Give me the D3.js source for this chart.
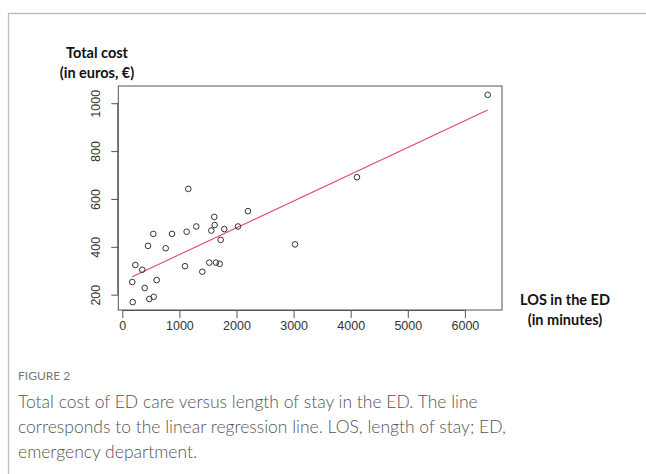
<!DOCTYPE html>
<html><head><meta charset="utf-8">
<script src="https://cdn.jsdelivr.net/npm/d3@7"></script>
<style>
html,body{margin:0;padding:0;background:#fff;}
svg{display:block;}
</style></head>
<body>
<svg id="chart" width="646" height="474"></svg>
<script>
// Data
const losMinutes = [175,182,228,350,392,450,473,549,543,602,760,870,1098,1127,1156,1296,1401,1524,1559,1611,1618,1641,1706,1723,1786,2026,2201,3025,4110,6399];
const totalCost  = [253,169,324,304,228,404,182,191,454,261,394,454,319,463,642,485,296,334,468,525,491,334,329,429,474,485,549,410,691,1035];
const xTicks = [0,1000,2000,3000,4000,5000,6000];
const yTicks = [200,400,600,800,1000];
const regression = [255.5, 0.112]; // intercept, slope
const captionLines = [
  "Total cost of ED care versus length of stay in the ED. The line",
  "corresponds to the linear regression line. LOS, length of stay; ED,",
  "emergency department."
];

const svg = d3.select("#chart");
const L = 118.3, R = 502, T = 86, B = 310;
const x = d3.scaleLinear().domain([-70, 6650]).range([L, R]);
const y = d3.scaleLinear().domain([136, 1072]).range([B, T]);
const fmt = d3.format("d");

// card border
svg.append("path").attr("d", "M8.5,474 V13.5 H646").attr("fill","none").attr("stroke","#bdbdbd").attr("stroke-width",1.3);

// plot box
svg.append("rect").attr("x",L).attr("y",T).attr("width",R-L).attr("height",B-T)
  .attr("fill","none").attr("stroke","#555").attr("stroke-width",1);

const xa = svg.append("g").attr("transform",`translate(0,${B})`)
  .call(d3.axisBottom(x).tickValues(xTicks).tickFormat(fmt).tickSize(8).tickSizeOuter(0).tickPadding(3));
xa.select(".domain").attr("d", `M${x(0)},0.5H${x(6000)}`).attr("stroke","#555");
xa.selectAll(".tick line").attr("stroke","#555");
xa.selectAll("text").attr("font-family","'Liberation Sans', Arial, sans-serif").attr("font-size",12.5).attr("fill","#333");

const ya = svg.append("g").attr("transform",`translate(${L},0)`)
  .call(d3.axisLeft(y).tickValues(yTicks).tickFormat(fmt).tickSize(7).tickSizeOuter(0).tickPadding(4));
ya.select(".domain").attr("d", `M-0.5,${y(200)}V${y(1000)}`).attr("stroke","#555");
ya.selectAll(".tick line").attr("stroke","#555");
ya.selectAll("text").attr("font-family","'Liberation Sans', Arial, sans-serif").attr("font-size",12.5).attr("fill","#333")
  .attr("transform","rotate(-90)").attr("x",0).attr("y",-18).attr("dy","0").attr("text-anchor","middle");

// regression line
const xmin = d3.min(losMinutes), xmax = d3.max(losMinutes);
svg.append("line")
  .attr("x1",x(xmin)).attr("y1",y(regression[0]+regression[1]*xmin))
  .attr("x2",x(xmax)).attr("y2",y(regression[0]+regression[1]*xmax))
  .attr("stroke","#e8475f").attr("stroke-width",1.1);

// points
svg.append("g").selectAll("circle").data(losMinutes.map((d,i)=>[d,totalCost[i]])).join("circle")
  .attr("cx",d=>x(d[0])).attr("cy",d=>y(d[1])).attr("r",2.8)
  .attr("fill","none").attr("stroke","#333").attr("stroke-width",1);

// axis titles
const tf = "Lato, 'Open Sans', sans-serif";
const titles = [["Total cost",97,58],["(in euros, €)",97,78],["LOS in the ED",565,305],["(in minutes)",565,325]];
svg.append("g").selectAll("text").data(titles).join("text")
  .attr("x",d=>d[1]).attr("y",d=>d[2]).attr("text-anchor","middle").attr("font-family",tf)
  .attr("font-weight","bold").attr("font-size",14.5).attr("fill","#111").text(d=>d[0]);

// caption
svg.append("text").attr("x",18).attr("y",380).attr("font-family","Lato, 'Open Sans', sans-serif")
  .attr("font-size",12).attr("fill","#777").text("FIGURE 2");
svg.append("g").selectAll("text").data(captionLines).join("text")
  .attr("x",18).attr("y",(d,i)=>408+i*25).attr("font-family","Lato, 'Open Sans', sans-serif")
  .attr("font-weight",300).attr("font-size",17.5).attr("fill","#555").text(d=>d);
</script>
</body></html>
